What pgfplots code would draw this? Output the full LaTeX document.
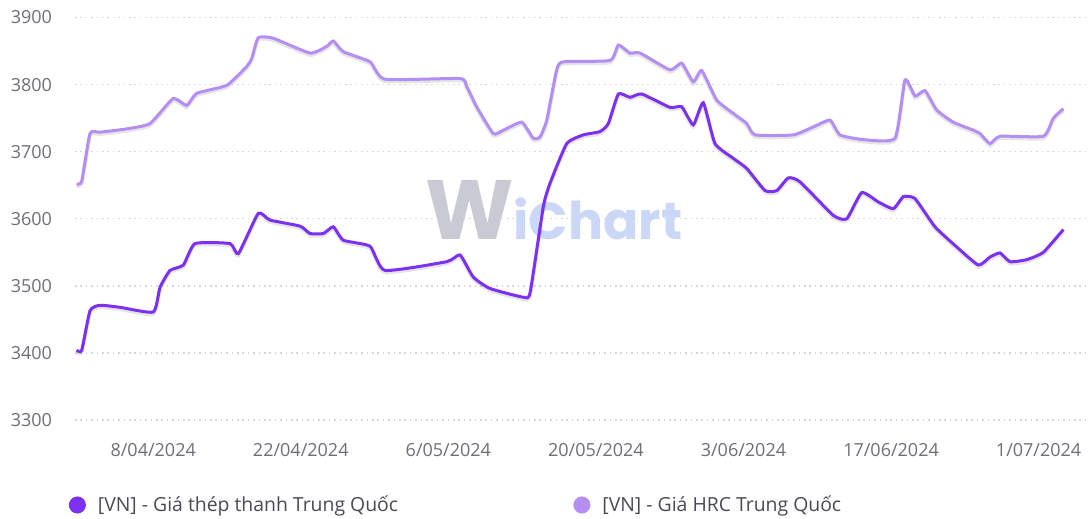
\documentclass[border=0pt]{standalone}
\usepackage{pgfplots}
\pgfplotsset{compat=1.18}
\usepackage{pgfplotstable}
\usepackage{fontspec}
\setmainfont{Open Sans}
\newfontfamily\wmfont{Poppins}
\definecolor{steel}{HTML}{7B30F2}
\definecolor{hrc}{HTML}{B48EF4}
\definecolor{ticktext}{HTML}{6E6E78}
\definecolor{legtext}{HTML}{4A4A52}
\definecolor{gridc}{HTML}{D6D6DC}
\definecolor{wmgray}{HTML}{CACAD4}
\definecolor{wmblue}{HTML}{CBD7F7}

\pgfplotstableread{
day val
-0.26 3652
0.22 3656
1.01 3727
1.95 3729
4.50 3734
6.70 3742
8.88 3779
10.18 3769
11.13 3787
13.98 3799
15.87 3827
16.35 3839
16.97 3870
18.40 3869
21.88 3847
23.46 3857
24.09 3865
25.04 3849
27.57 3834
28.99 3808
36.11 3809
36.75 3797
37.69 3767
39.27 3727
40.22 3732
41.96 3744
43.06 3720
43.70 3722
44.34 3747
45.28 3822
45.91 3834
50.34 3836
51.13 3859
52.24 3847
53.19 3847
56.03 3822
57.14 3832
58.24 3804
59.04 3821
60.46 3777
62.04 3757
63.31 3742
64.10 3725
67.73 3725
69.63 3737
71.21 3747
72.16 3725
74.37 3718
77.38 3720
78.33 3807
79.28 3783
80.23 3791
81.34 3762
82.91 3744
84.81 3732
85.44 3727
86.39 3712
87.34 3723
91.45 3723
92.40 3750
93.35 3764
}\hrcdata

\pgfplotstableread{
day val
-0.26 3404
0.22 3404
1.01 3463
1.95 3471
3.85 3468
7.01 3461
7.65 3498
8.60 3523
9.86 3531
10.97 3563
14.29 3563
15.08 3548
16.97 3608
18.08 3598
20.93 3589
21.88 3578
23.14 3578
24.09 3588
25.04 3568
27.57 3559
28.99 3523
34.85 3536
36.11 3546
37.37 3513
38.96 3496
42.12 3483
42.76 3490
44.01 3618
44.65 3653
46.23 3712
47.81 3725
49.39 3730
50.18 3742
51.13 3786
52.24 3781
53.35 3786
56.03 3766
57.14 3767
58.24 3740
59.19 3773
60.30 3712
62.04 3690
63.31 3675
65.05 3642
66.16 3642
67.26 3661
68.37 3655
71.53 3605
72.80 3600
74.22 3639
75.80 3625
77.22 3615
78.17 3633
79.28 3630
81.17 3588
83.23 3558
85.29 3531
86.39 3543
87.34 3549
88.29 3536
89.87 3539
91.45 3550
93.35 3584
}\steeldata

\begin{document}
\begin{tikzpicture}
\begin{axis}[
  at={(0,0)}, anchor=south west,
  scale only axis,
  width=505pt, height=201.25pt,
  xmin=-0.42, xmax=95.4,
  ymin=3300, ymax=3900,
  ytick={3300,3400,3500,3600,3700,3800,3900},
  xtick={7,21,35,49,63,77,91},
  xticklabels={8/04/2024,22/04/2024,6/05/2024,20/05/2024,3/06/2024,17/06/2024,1/07/2024},
  axis line style={draw=none},
  major tick length=0pt,
  ymajorgrids,
  grid style={gridc, line width=0.7pt, dash pattern=on 0.8pt off 1.9pt},
  tick label style={font=\fontsize{9}{10}\selectfont, text=ticktext},
  /pgf/number format/assume math mode=true,
  /pgf/number format/1000 sep={},
  yticklabel style={anchor=east, xshift=-8pt},
  xticklabel style={anchor=north, yshift=-8pt},
  clip=false,
  legend columns=2,
  legend cell align=left,
  legend style={draw=none, fill=none, inner sep=0pt, at={(0,0)}, anchor=west,
    xshift=-3.25pt, yshift=-42.5pt,
    font=\fontsize{9.7}{11}\selectfont, text=legtext,
    nodes={inner sep=0pt},
    /tikz/every odd column/.append style={column sep=6pt}},
  legend image code/.code={\fill (0pt,0pt) circle (3.5pt);},
]
\node[inner sep=0pt] at (rel axis cs:0.474,0.52)
  {\wmfont\bfseries{\fontsize{42}{42}\selectfont\color{wmgray}W}{\fontsize{26}{26}\selectfont\color{wmblue}iChart}};
\addplot[forget plot, color=black, opacity=0.10, line width=2pt, smooth, tension=0.3, yshift=-0.9pt] table[x=day,y=val]{\steeldata};
\addplot[forget plot, color=black, opacity=0.10, line width=2pt, smooth, tension=0.3, yshift=-0.9pt] table[x=day,y=val]{\hrcdata};
\addplot[color=steel, line width=1.5pt, smooth, tension=0.3] table[x=day,y=val]{\steeldata};
\addlegendentry{\makebox[237.75pt][l]{[VN] - Giá thép thanh Trung Quốc}}
\addplot[color=hrc, line width=1.5pt, smooth, tension=0.3] table[x=day,y=val]{\hrcdata};
\addlegendentry{[VN] - Giá HRC Trung Quốc}
\end{axis}
\pgfresetboundingbox
\path[use as bounding box] (-37.5pt,-49.5pt) rectangle (507pt,210pt);
\end{tikzpicture}
\end{document}
